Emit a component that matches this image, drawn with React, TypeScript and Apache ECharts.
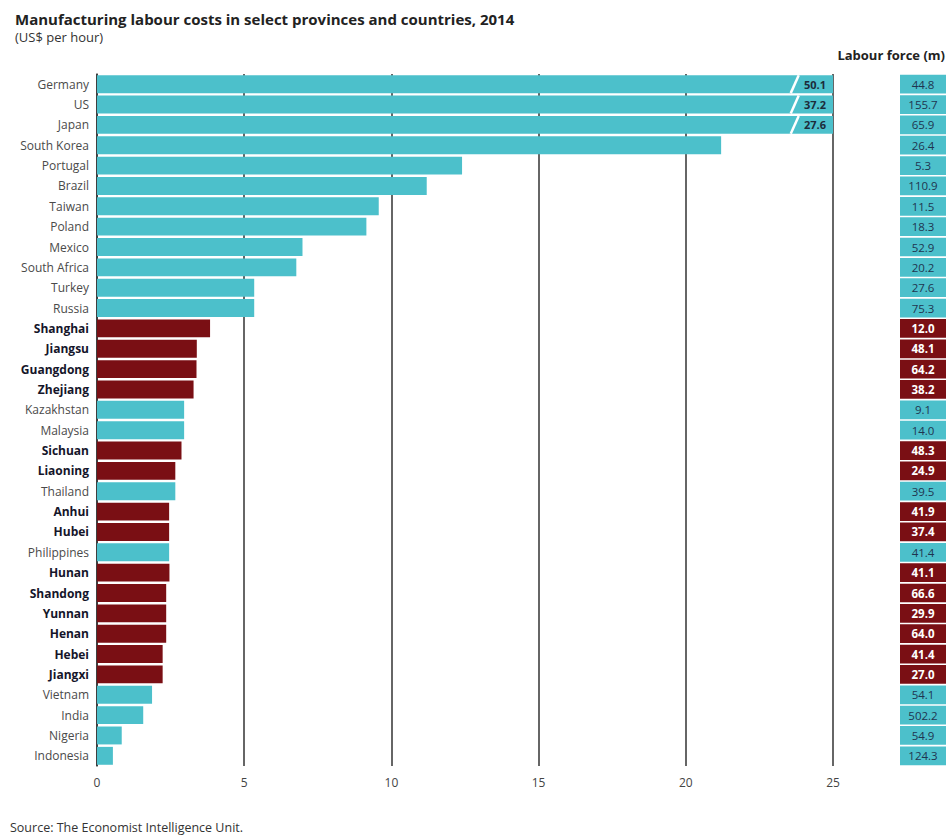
import React, { useEffect, useRef } from "react";
import * as echarts from "echarts";

const categories = [
  "Germany", "US", "Japan", "South Korea", "Portugal", "Brazil", "Taiwan", "Poland",
  "Mexico", "South Africa", "Turkey", "Russia", "Shanghai", "Jiangsu", "Guangdong",
  "Zhejiang", "Kazakhstan", "Malaysia", "Sichuan", "Liaoning", "Thailand", "Anhui",
  "Hubei", "Philippines", "Hunan", "Shandong", "Yunnan", "Henan", "Hebei", "Jiangxi",
  "Vietnam", "India", "Nigeria", "Indonesia",
];
const labourCost = [
  50.1, 37.2, 27.6, 21.2, 12.4, 11.2, 9.57, 9.15, 6.98, 6.77, 5.34, 5.34, 3.84, 3.39,
  3.38, 3.28, 2.96, 2.96, 2.87, 2.66, 2.66, 2.45, 2.45, 2.45, 2.46, 2.35, 2.35, 2.35,
  2.23, 2.23, 1.87, 1.57, 0.84, 0.54,
];
const labourForce = [
  "44.8", "155.7", "65.9", "26.4", "5.3", "110.9", "11.5", "18.3", "52.9", "20.2",
  "27.6", "75.3", "12.0", "48.1", "64.2", "38.2", "9.1", "14.0", "48.3", "24.9", "39.5",
  "41.9", "37.4", "41.4", "41.1", "66.6", "29.9", "64.0", "41.4", "27.0", "54.1",
  "502.2", "54.9", "124.3",
];
const provinces = [
  "Shanghai", "Jiangsu", "Guangdong", "Zhejiang", "Sichuan", "Liaoning", "Anhui",
  "Hubei", "Hunan", "Shandong", "Yunnan", "Henan", "Hebei", "Jiangxi",
];
const xTicks = [0, 5, 10, 15, 20, 25];
const axisMax = 25;
const breakAt = 23.7;

const TEAL = "#4cc0cb";
const MAROON = "#7a0f14";
const FONT = "'Open Sans', 'Noto Sans', sans-serif";

export default function App() {
  const ref = useRef<HTMLDivElement>(null);
  useEffect(() => {
    if (!ref.current) return;
    const chart = echarts.init(ref.current, undefined, { renderer: "svg" });
    const isProv = (n: string) => provinces.indexOf(n) >= 0;
    const top = 74;
    const bottom = 72;

    const costData = labourCost.map((v, i) => ({
      value: Math.min(v, axisMax),
      itemStyle: { color: isProv(categories[i]) ? MAROON : TEAL },
      label:
        v > axisMax
          ? {
              show: true,
              position: "insideRight",
              formatter: v.toFixed(1),
              color: "#1c2b3a",
              fontSize: 11,
              fontWeight: "bold",
              fontFamily: FONT,
              offset: [-2, 0],
            }
          : { show: false },
    }));

    const breaks = labourCost
      .map((v, i) => (v > axisMax ? [breakAt, categories[i]] : null))
      .filter((d) => d !== null);

    const lfData = labourForce.map((s, i) => ({
      value: 1,
      itemStyle: { color: isProv(categories[i]) ? MAROON : TEAL },
      label: {
        show: true,
        position: "inside",
        formatter: s,
        color: isProv(categories[i]) ? "#ffffff" : "#1f3550",
        fontWeight: isProv(categories[i]) ? "bold" : "normal",
        fontSize: 11.5,
        fontFamily: FONT,
      },
    }));

    chart.setOption({
      animation: false,
      backgroundColor: "#ffffff",
      textStyle: { fontFamily: FONT },
      title: {
        text: "Manufacturing labour costs in select provinces and countries, 2014",
        subtext: "(US$ per hour)",
        left: 10,
        top: 6,
        itemGap: 4,
        textStyle: { fontSize: 15, fontWeight: "bold", color: "#222", fontFamily: FONT },
        subtextStyle: { fontSize: 13, color: "#333", fontFamily: FONT },
      },
      graphic: [
        {
          type: "text",
          right: 5,
          top: 48,
          style: {
            text: "Labour force (m)",
            font: `bold 13px ${FONT}`,
            fill: "#222",
          },
        },
        {
          type: "text",
          left: 10,
          top: 821,
          style: {
            text: "Source: The Economist Intelligence Unit.",
            font: `12.5px ${FONT}`,
            fill: "#333",
          },
        },
      ],
      grid: [
        { left: 97, right: 117, top, bottom },
        { left: 900, width: 46, top, bottom },
      ],
      xAxis: [
        {
          gridIndex: 0,
          type: "value",
          min: 0,
          max: axisMax,
          interval: 5,
          axisLine: { show: false },
          axisTick: { show: false },
          splitLine: { show: true, lineStyle: { color: "#333", width: 1.5 } },
          axisLabel: {
            color: "#444",
            fontSize: 12,
            margin: 10,
            formatter: (v: number) => (xTicks.indexOf(v) >= 0 ? String(v) : ""),
          },
        },
        {
          gridIndex: 1,
          type: "value",
          min: 0,
          max: 1,
          show: false,
        },
      ],
      yAxis: [
        {
          gridIndex: 0,
          type: "category",
          data: categories,
          inverse: true,
          axisLine: { show: true, lineStyle: { color: "#333", width: 1.5 } },
          axisTick: { show: false },
          axisLabel: {
            margin: 8,
            formatter: (n: string) => (isProv(n) ? `{p|${n}}` : `{c|${n}}`),
            rich: {
              p: { fontSize: 12, fontWeight: "bold", color: "#15152a", fontFamily: FONT },
              c: { fontSize: 12, color: "#4a4a4a", fontFamily: FONT },
            },
          },
        },
        {
          gridIndex: 1,
          type: "category",
          data: categories,
          inverse: true,
          show: false,
        },
      ],
      series: [
        {
          type: "bar",
          xAxisIndex: 0,
          yAxisIndex: 0,
          data: costData,
          barCategoryGap: "12%",
          z: 2,
        },
        {
          type: "custom",
          xAxisIndex: 0,
          yAxisIndex: 0,
          data: breaks,
          encode: { x: 0, y: 1 },
          z: 5,
          renderItem: (params: any, api: any) => {
            const p = api.coord([api.value(0), api.value(1)]);
            const h = api.size([0, 1])[1] * 0.88;
            return {
              type: "line",
              shape: { x1: p[0] - 4, y1: p[1] + h / 2, x2: p[0] + 4, y2: p[1] - h / 2 },
              style: { stroke: "#ffffff", lineWidth: 2.5 },
            };
          },
        },
        {
          type: "bar",
          xAxisIndex: 1,
          yAxisIndex: 1,
          data: lfData,
          barCategoryGap: "8%",
        },
      ],
    });
    return () => chart.dispose();
  }, []);
  return (
    <div
      ref={ref}
      style={{ position: "fixed", left: 0, top: 0, width: 950, height: 838 }}
    />
  );
}
